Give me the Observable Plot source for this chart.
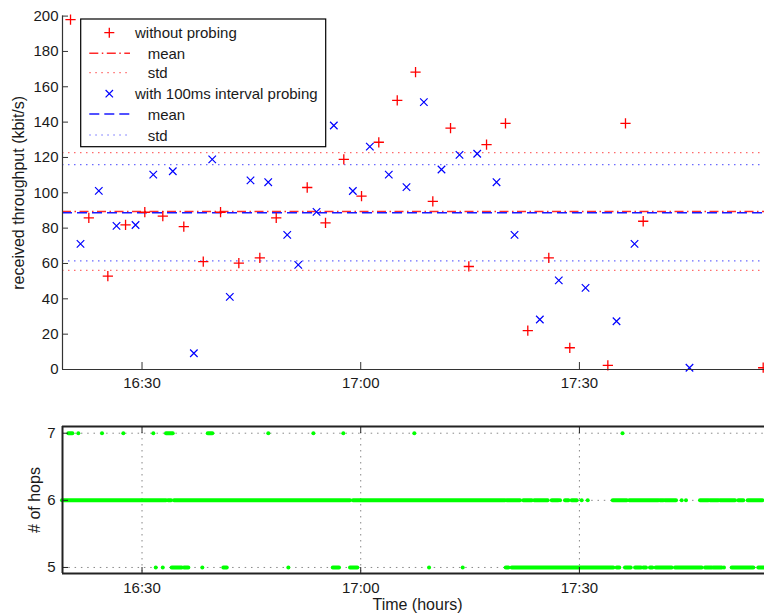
<!DOCTYPE html>
<html><head><meta charset="utf-8">
<script src="https://cdn.jsdelivr.net/npm/d3@7"></script>
<script src="https://cdn.jsdelivr.net/npm/@observablehq/plot@0.6"></script>
<style>
html,body{margin:0;padding:0;background:#fff;}
#wrap{position:relative;width:764px;height:616px;overflow:hidden;font-family:"Liberation Sans",Arial,Helvetica,sans-serif;}
#wrap svg{display:block;}
#legend{position:absolute;left:80px;top:18px;}
</style></head><body><div id="wrap"></div>
<script>
// time = minutes after 16:00
const redTimes = [20.19,22.70,25.31,27.74,30.38,32.85,35.73,38.40,40.77,43.28,46.16,48.41,52.66,55.17,57.68,60.11,62.48,65.01,67.52,69.89,72.32,74.83,77.26,79.86,82.92,85.80,88.68,93.90,96.32,98.75,115.21];
const redValues = [198.0,85.8,52.8,81.8,89.0,86.8,80.9,61.1,89.0,60.2,63.2,85.8,103.0,83.0,118.9,98.1,128.6,152.3,168.3,95.2,136.6,58.3,127.3,139.3,22.0,63.2,12.3,2.3,139.3,83.9,1.0];
const blueTimes = [21.56,24.07,26.50,29.11,31.54,34.22,37.11,39.63,42.04,44.88,47.31,49.92,51.43,53.94,56.31,58.92,61.25,63.85,66.28,68.66,71.08,73.55,75.98,78.63,81.10,84.57,87.17,90.84,95.09,97.56,105.10];
const blueValues = [71.1,101.1,81.3,81.8,110.3,112.2,9.2,118.9,41.1,107.0,106.0,76.2,59.2,89.2,138.1,101.0,126.1,110.3,103.2,151.3,113.2,121.5,122.1,106.0,76.2,28.3,50.4,46.2,27.3,71.1,1.0];
const redMean = 89.4, redStd = 33.3;
const blueMean = 88.7, blueStd = 27.2;

const xTicks = [30, 60, 90];
const xTickLabels = ["16:30", "17:00", "17:30"];
const yTicks = [0,20,40,60,80,100,120,140,160,180,200];
const hopTicks = [5, 6, 7];

// [start, end] time runs of hop-count samples
const hops7Runs = [[19.96,20.51],[21.33,21.33],[24.58,24.58],[27.50,27.50],[31.62,31.62],[33.36,34.28],[39.08,39.71],[47.39,47.39],[53.57,53.57],[57.68,57.68],[67.42,67.42],[95.98,95.98]];
const hops6Runs = [[19.09,33.36],[33.64,34.05],[34.46,58.60],[59.01,79.86],[80.10,81.92],[82.37,83.53],[83.88,85.72],[86.27,87.17],[87.41,87.41],[88.09,88.55],[89.01,89.70],[90.38,90.38],[91.21,91.21],[94.64,96.56],[96.91,100.89],[101.12,101.58],[101.81,103.32],[104.10,104.10],[104.69,104.69],[106.61,107.75],[107.98,109.12],[109.36,111.41],[111.87,112.55],[113.15,115.16]];
const hops5Runs = [[31.95,31.95],[32.91,32.91],[34.14,35.51],[35.83,36.42],[38.34,38.34],[41.22,41.69],[50.14,50.14],[56.23,57.09],[58.60,59.60],[69.44,69.44],[74.06,74.06],[79.96,80.32],[80.78,94.72],[95.18,95.54],[96.32,97.11],[97.70,98.52],[98.83,99.20],[99.75,100.07],[100.53,102.73],[103.18,106.84],[107.30,108.22],[108.44,109.59],[109.90,109.90],[110.96,113.92],[114.61,115.39]];

const legendLabels = ["without probing","mean","std","with 100ms interval probing","mean","std"];

const xDomain = [19.09, 115.39];
const font = '"Liberation Sans", Arial, Helvetica, sans-serif';
const style = {fontFamily: font, fontSize: "15px", color: "#1a1a1a", background: "white", overflow: "hidden"};
const fmtX = d => xTickLabels[xTicks.indexOf(d)];

const redPts = redTimes.map((t, i) => ({t, v: redValues[i]}));
const bluePts = blueTimes.map((t, i) => ({t, v: blueValues[i]}));
const hopRuns = [
  ...hops7Runs.map(([a, b]) => ({hops: 7, start: a, end: b})),
  ...hops6Runs.map(([a, b]) => ({hops: 6, start: a, end: b})),
  ...hops5Runs.map(([a, b]) => ({hops: 5, start: a, end: b}))
];

const topPlot = Plot.plot({
  width: 764, height: 395,
  marginLeft: 62, marginRight: 0, marginTop: 15.6, marginBottom: 26,
  x: {domain: xDomain},
  y: {domain: [0, 200]},
  style,
  marks: [
    Plot.ruleY([redMean + redStd, redMean - redStd], {stroke: "#ff6a6a", strokeWidth: 1.2, strokeDasharray: "1.5,4.5"}),
    Plot.ruleY([blueMean + blueStd, blueMean - blueStd], {stroke: "#6a6aff", strokeWidth: 1.2, strokeDasharray: "1.5,4.5"}),
    Plot.ruleY([redMean], {stroke: "#ff2a2a", strokeWidth: 1.5, strokeDasharray: "9,3.5,1.5,3.5"}),
    Plot.ruleY([blueMean], {stroke: "#1a1aff", strokeWidth: 1.5, strokeDasharray: "10,5"}),
    Plot.dot(redPts, {x: "t", y: "v", symbol: "plus", r: 3.4, stroke: "#ff0000", strokeWidth: 1.3}),
    Plot.dot(bluePts, {x: "t", y: "v", symbol: "times", r: 3.5, stroke: "#0000ff", strokeWidth: 1.2}),
    Plot.ruleX([xDomain[0]], {stroke: "#333", strokeWidth: 1.2}),
    Plot.ruleY([0], {stroke: "#333", strokeWidth: 1.2}),
    Plot.axisY({ticks: yTicks, tickSize: -6, tickPadding: 10, label: null, stroke: "#333"}),
    Plot.axisX({ticks: xTicks, tickFormat: fmtX, tickSize: -7, tickPadding: 14.7, label: null, stroke: "#333"}),
    Plot.text(["received throughput (kbit/s)"], {frameAnchor: "left", rotate: -90, dx: -43.5, textAnchor: "middle", lineAnchor: "middle", fontSize: 16, fill: "#1a1a1a"})
  ]
});

const botPlot = Plot.plot({
  width: 764, height: 221,
  marginLeft: 62, marginRight: 0, marginTop: 31, marginBottom: 43,
  x: {domain: xDomain},
  y: {domain: [4.91, 7.10]},
  style,
  marks: [
    Plot.gridY(hopTicks, {stroke: "#888", strokeOpacity: 1, strokeWidth: 1, strokeDasharray: "1.5,4.8"}),
    Plot.gridX(xTicks, {stroke: "#888", strokeOpacity: 1, strokeWidth: 1, strokeDasharray: "1.5,4.5"}),
    Plot.ruleY(hopRuns, {y: "hops", x1: "start", x2: "end", stroke: "#00ff00", strokeWidth: 4, strokeLinecap: "round"}),
    Plot.ruleY([4.91, 7.10], {stroke: "#222", strokeWidth: 2}),
    Plot.ruleX([xDomain[0]], {stroke: "#222", strokeWidth: 2}),
    Plot.axisY({ticks: hopTicks, tickFormat: d => String(d), tickSize: -6, tickPadding: 13, label: null, stroke: "#222"}),
    Plot.axisX({ticks: xTicks, tickFormat: fmtX, tickSize: -6, tickPadding: 14.4, label: null, stroke: "#222"}),
    Plot.axisX({ticks: xTicks, anchor: "top", tickFormat: () => "", tickSize: -6, label: null, stroke: "#222"}),
    Plot.text(["# of hops"], {frameAnchor: "left", rotate: -90, dx: -27.3, textAnchor: "middle", lineAnchor: "middle", fontSize: 16, fill: "#1a1a1a"}),
    Plot.text(["Time (hours)"], {frameAnchor: "bottom", dx: 4, dy: 31, textAnchor: "middle", lineAnchor: "middle", fontSize: 16, fill: "#1a1a1a"})
  ]
});

const wrap = document.getElementById("wrap");
wrap.appendChild(topPlot);
wrap.appendChild(botPlot);

// legend
const ns = "http://www.w3.org/2000/svg";
const lg = document.createElementNS(ns, "svg");
lg.setAttribute("id", "legend");
lg.setAttribute("width", 248);
lg.setAttribute("height", 131);
const rows = [14.7, 35.3, 54.7, 75.7, 96, 117];
const samples = [
  {kind: "plus", color: "#ff0000"},
  {kind: "line", color: "#ff2a2a", dash: "9,3.5,1.5,3.5", w: 1.5},
  {kind: "line", color: "#ff6a6a", dash: "1.5,4.5", w: 1.2},
  {kind: "times", color: "#0000ff"},
  {kind: "line", color: "#1a1aff", dash: "10,5", w: 1.5},
  {kind: "line", color: "#6a6aff", dash: "1.5,4.5", w: 1.2}
];
let html = `<rect x="0.7" y="1" width="245" height="127.7" fill="#fff" stroke="#000" stroke-width="1.2"/>`;
samples.forEach((s, i) => {
  const y = rows[i];
  if (s.kind === "plus") {
    html += `<path d="M24.3,${y}H34.3M29.3,${y-5}V${y+5}" stroke="${s.color}" stroke-width="1.3" fill="none"/>`;
  } else if (s.kind === "times") {
    html += `<path d="M25.6,${y-3.7}L33,${y+3.7}M25.6,${y+3.7}L33,${y-3.7}" stroke="${s.color}" stroke-width="1.2" fill="none"/>`;
  } else {
    html += `<line x1="9.3" x2="50" y1="${y}" y2="${y}" stroke="${s.color}" stroke-width="${s.w}" stroke-dasharray="${s.dash}"/>`;
  }
  const tx = (i === 0 || i === 3) ? 55 : 67.7;
  html += `<text x="${tx}" y="${y}" dominant-baseline="central" font-family='${font}' font-size="15" fill="#1a1a1a">${legendLabels[i]}</text>`;
});
lg.innerHTML = html;
wrap.appendChild(lg);
</script></body></html>
